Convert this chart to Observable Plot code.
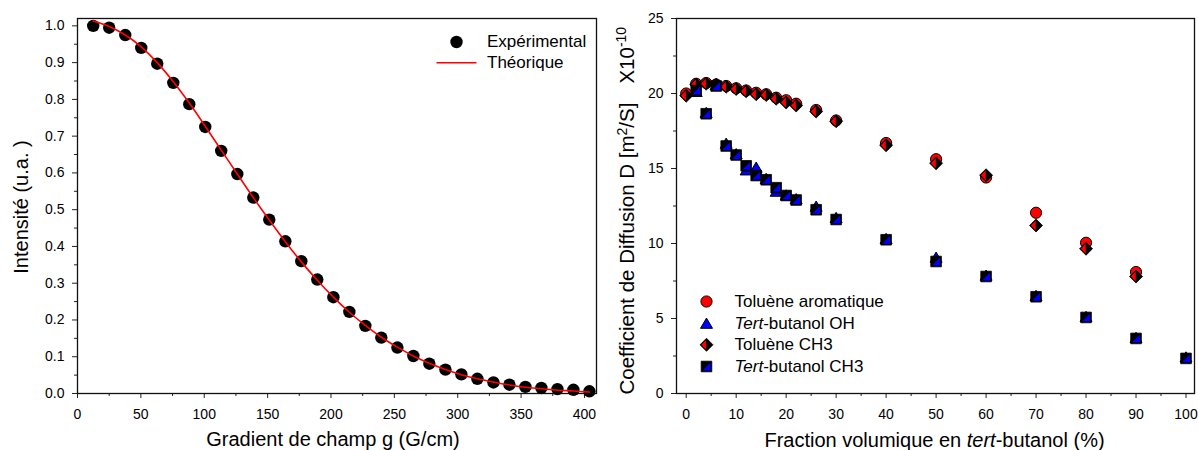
<!DOCTYPE html>
<html><head><meta charset="utf-8">
<script src="https://cdn.jsdelivr.net/npm/d3@7"></script>
<script src="https://cdn.jsdelivr.net/npm/@observablehq/plot@0.6"></script>
<style>
body{margin:0;background:#fff;font-family:"Liberation Sans",Arial,sans-serif}
#wrap{position:relative;width:1198px;height:450px;overflow:hidden}
#left{position:absolute;left:0;top:0}
#right{position:absolute;left:600px;top:0}
</style></head><body><div id="wrap"><div id="left"></div><div id="right"></div></div>
<script>
// ---------- Left chart data ----------
const gradient = [12.4, 25.0, 37.7, 50.3, 62.9, 75.6, 88.2, 100.8, 113.4, 126.1, 138.7, 151.3, 164.0, 176.6, 189.2, 201.9, 214.5, 227.1, 239.7, 252.4, 265.0, 277.6, 290.3, 302.9, 315.5, 328.2, 340.8, 353.4, 366.0, 378.7, 391.3, 403.9];
const intensityExp = [1.000, 0.995, 0.975, 0.940, 0.897, 0.845, 0.787, 0.725, 0.660, 0.597, 0.533, 0.473, 0.414, 0.360, 0.310, 0.262, 0.222, 0.184, 0.152, 0.125, 0.102, 0.081, 0.065, 0.052, 0.040, 0.030, 0.024, 0.018, 0.015, 0.012, 0.010, 0.006];
const intensityTheo = [1.013, 0.998, 0.975, 0.943, 0.900, 0.848, 0.790, 0.727, 0.662, 0.597, 0.533, 0.472, 0.413, 0.358, 0.308, 0.262, 0.221, 0.185, 0.153, 0.126, 0.102, 0.082, 0.065, 0.051, 0.040, 0.031, 0.023, 0.017, 0.013, 0.009, 0.007, 0.004];
const gTicks = [0, 50, 100, 150, 200, 250, 300, 350, 400];
const gMinorTicks = [25, 75, 125, 175, 225, 275, 325, 375];
const iTicks = [0, 0.1, 0.2, 0.3, 0.4, 0.5, 0.6, 0.7, 0.8, 0.9, 1.0];
const iMinorTicks = [0.05, 0.15, 0.25, 0.35, 0.45, 0.55, 0.65, 0.75, 0.85, 0.95];
const leftLegend = ["Expérimental", "Théorique"];

// ---------- Right chart data ----------
const fracToluene = [0, 2, 4, 6, 8, 10, 12, 14, 16, 18, 20, 22, 26, 30, 40, 50, 60, 70, 80, 90];
const tolueneAromatique = [20.0, 20.65, 20.7, 20.6, 20.5, 20.35, 20.2, 20.05, 19.95, 19.72, 19.55, 19.32, 18.9, 18.2, 16.7, 15.62, 14.4, 12.05, 10.05, 8.1];
const tolueneCH3 = [19.85, 20.6, 20.65, 20.6, 20.45, 20.3, 20.15, 19.95, 19.9, 19.65, 19.4, 19.2, 18.8, 18.15, 16.55, 15.35, 14.55, 11.2, 9.65, 7.8];
const fracTert = [2, 4, 6, 8, 10, 12, 14, 16, 18, 20, 22, 26, 30, 40, 50, 60, 70, 80, 90, 100];
const tertOH = [20.1, 18.7, 20.55, 16.65, 15.95, 14.87, 15.05, 14.3, 13.45, 13.2, 12.95, 12.45, 11.7, 10.3, 9.05, 7.85, 6.5, 5.1, 3.7, 2.4];
const tertCH3 = [20.2, 18.65, 20.5, 16.5, 15.9, 15.18, 14.53, 14.25, 13.72, 13.2, 12.9, 12.25, 11.6, 10.25, 8.8, 7.8, 6.45, 5.07, 3.67, 2.34];
const fTicks = [0, 10, 20, 30, 40, 50, 60, 70, 80, 90, 100];
const fMinorTicks = [5, 15, 25, 35, 45, 55, 65, 75, 85, 95];
const dTicks = [0, 5, 10, 15, 20, 25];
const dMinorTicks = [2.5, 7.5, 12.5, 17.5, 22.5];
const rightLegend = ["Toluène aromatique", "Tert-butanol OH", "Toluène CH3", "Tert-butanol CH3"];

// ---------- custom symbols ----------
const rOf = s => Math.sqrt(s / Math.PI);
const symDiamond = {draw(c, s){const a = rOf(s) * 1.08; c.moveTo(0, -a); c.lineTo(a, 0); c.lineTo(0, a); c.lineTo(-a, 0); c.closePath();}};
const symDiamondLeft = {draw(c, s){const a = rOf(s) * 1.08 - 1.6; c.moveTo(-0.3, -a); c.lineTo(-0.3, a); c.lineTo(-a - 0.3, 0); c.closePath();}};
const symSquare = {draw(c, s){const h = rOf(s) * 0.9; c.rect(-h, -h, 2 * h, 2 * h);}};
const symSquareLR = {draw(c, s){const h = rOf(s) * 0.9 - 1.4; c.moveTo(h, -h); c.lineTo(h, h); c.lineTo(-h, h); c.closePath();}};
const symTriangle = {draw(c, s){const r = rOf(s); c.moveTo(0, -r * 0.95); c.lineTo(r * 1.0, r * 0.75); c.lineTo(-r * 1.0, r * 0.75); c.closePath();}};
const symHLine = {draw(c, s){c.moveTo(-20, 0); c.lineTo(20, 0);}};

const baseStyle = {fontFamily: "'Liberation Sans', Arial, sans-serif", fontSize: "14px", color: "black", background: "white", overflow: "visible"};

// ---------- Left chart ----------
const expData = gradient.map((g, i) => ({g, v: intensityExp[i]}));
const theoData = gradient.map((g, i) => ({g, v: intensityTheo[i]}));

const left = Plot.plot({
  width: 600, height: 450,
  marginLeft: 77, marginRight: 4, marginTop: 18, marginBottom: 57,
  style: baseStyle,
  x: {domain: [0, 409.5]},
  y: {domain: [0, 1.02]},
  marks: [
    Plot.axisX({ticks: gTicks, tickSize: 5, tickPadding: 11, tickFormat: d3.format("d"), label: null, stroke: "#222"}),
    Plot.axisX({ticks: gMinorTicks, tickSize: 3, tickFormat: () => "", label: null, stroke: "#222"}),
    Plot.axisY({ticks: iTicks, tickSize: 5, tickPadding: 8, tickFormat: d3.format(".1f"), label: null, stroke: "#222"}),
    Plot.axisY({ticks: iMinorTicks, tickSize: 3, tickFormat: () => "", label: null, stroke: "#222"}),
    Plot.frame({stroke: "#111", strokeWidth: 1.3}),
    Plot.dot(expData, {x: "g", y: "v", r: 6.2, fill: "black"}),
    Plot.line(theoData, {x: "g", y: "v", stroke: "#ff0000", strokeWidth: 1.6, curve: "catmull-rom"}),
    Plot.text(["Gradient de champ g (G/cm)"], {frameAnchor: "bottom", textAnchor: "middle", lineAnchor: "middle", dx: -4, dy: 46.5, fontSize: 20}),
    Plot.text(["Intensité (u.a. )"], {frameAnchor: "left", textAnchor: "middle", lineAnchor: "middle", rotate: -90, dx: -56, dy: 1, fontSize: 20}),
    Plot.dot([leftLegend[0]], {frameAnchor: "top-left", dx: 379, dy: 23.5, r: 6.2, fill: "black"}),
    Plot.text([leftLegend[0]], {frameAnchor: "top-left", textAnchor: "start", lineAnchor: "middle", dx: 409.5, dy: 23, fontSize: 17}),
    Plot.dot([leftLegend[1]], {frameAnchor: "top-left", dx: 379, dy: 44.3, symbol: symHLine, stroke: "#ff0000", strokeWidth: 1.6, fill: "none"}),
    Plot.text([leftLegend[1]], {frameAnchor: "top-left", textAnchor: "start", lineAnchor: "middle", dx: 409.5, dy: 44.5, fontSize: 17})
  ]
});
document.getElementById("left").appendChild(left);

// ---------- Right chart ----------
const aro = fracToluene.map((f, i) => ({f, d: tolueneAromatique[i]}));
const tch3 = fracToluene.map((f, i) => ({f, d: tolueneCH3[i]}));
const toh = fracTert.map((f, i) => ({f, d: tertOH[i]}));
const tbch3 = fracTert.map((f, i) => ({f, d: tertCH3[i]}));

const legY = [283, 305.3, 326.3, 348];
const legendMarks = [];
const markerSpecs = [
  [{symbol: "circle", r: 5.6, fill: "#ff0000", stroke: "black", strokeWidth: 1}],
  [{symbol: symTriangle, r: 6, fill: "#0000ff", stroke: "black", strokeWidth: 1}],
  [{symbol: symDiamond, r: 6, fill: "black", stroke: "black", strokeWidth: 0.8}, {symbol: symDiamondLeft, r: 6, fill: "#ff0000"}],
  [{symbol: symSquare, r: 5.9, fill: "black", stroke: "black", strokeWidth: 0.8}, {symbol: symSquareLR, r: 5.9, fill: "#0000ff"}]
];
rightLegend.forEach((lab, i) => {
  markerSpecs[i].forEach(spec => legendMarks.push(Plot.dot([lab], {frameAnchor: "top-left", dx: 30, dy: legY[i], ...spec})));
  legendMarks.push(Plot.text([lab], {frameAnchor: "top-left", textAnchor: "start", lineAnchor: "middle", dx: 58, dy: legY[i], fontSize: 17}));
});

const right = Plot.plot({
  width: 598, height: 450,
  marginLeft: 76, marginRight: 4, marginTop: 18, marginBottom: 57,
  style: baseStyle,
  x: {domain: [-1.94, 101.7]},
  y: {domain: [0, 25]},
  marks: [
    Plot.axisX({ticks: fTicks, tickSize: 5, tickPadding: 11, tickFormat: d3.format("d"), label: null, stroke: "#222"}),
    Plot.axisX({ticks: fMinorTicks, tickSize: 3, tickFormat: () => "", label: null, stroke: "#222"}),
    Plot.axisY({ticks: dTicks, tickSize: 5, tickPadding: 8, tickFormat: d3.format("d"), label: null, stroke: "#222"}),
    Plot.axisY({ticks: dMinorTicks, tickSize: 3, tickFormat: () => "", label: null, stroke: "#222"}),
    Plot.frame({stroke: "#111", strokeWidth: 1.3}),
    Plot.dot(aro, {x: "f", y: "d", ...markerSpecs[0][0]}),
    Plot.dot(toh, {x: "f", y: "d", ...markerSpecs[1][0]}),
    Plot.dot(tch3, {x: "f", y: "d", ...markerSpecs[2][0]}),
    Plot.dot(tch3, {x: "f", y: "d", ...markerSpecs[2][1]}),
    Plot.dot(tbch3, {x: "f", y: "d", ...markerSpecs[3][0]}),
    Plot.dot(tbch3, {x: "f", y: "d", ...markerSpecs[3][1]}),
    ...legendMarks,
    Plot.text(["Fraction volumique en tert-butanol (%)"], {frameAnchor: "bottom", textAnchor: "middle", lineAnchor: "middle", dx: -1, dy: 47, fontSize: 20}),
    Plot.text(["Coefficient de Diffusion D [m2/S] X10-10"], {frameAnchor: "bottom-left", textAnchor: "start", lineAnchor: "middle", rotate: -90, dx: -49, dy: 1, fontSize: 20.5})
  ]
});
document.getElementById("right").appendChild(right);

// ---------- rich text (italic / superscripts) ----------
function rich(svg, plain, build) {
  d3.select(svg).selectAll("text").each(function() {
    if (this.textContent === plain) { const t = d3.select(this); t.text(null); build(t); }
  });
}
rich(right, "Tert-butanol OH", t => { t.append("tspan").attr("font-style", "italic").text("Tert"); t.append("tspan").text("-butanol OH"); });
rich(right, "Tert-butanol CH3", t => { t.append("tspan").attr("font-style", "italic").text("Tert"); t.append("tspan").text("-butanol CH3"); });
rich(right, "Fraction volumique en tert-butanol (%)", t => {
  t.append("tspan").text("Fraction volumique en ");
  t.append("tspan").attr("font-style", "italic").text("tert");
  t.append("tspan").text("-butanol (%)");
});
rich(right, "Coefficient de Diffusion D [m2/S] X10-10", t => {
  t.append("tspan").text("Coefficient de Diffusion D [m");
  t.append("tspan").attr("dy", -7).attr("font-size", 14).text("2");
  t.append("tspan").attr("dy", 7).text("/S]");
  t.append("tspan").attr("dx", 19).text("X10");
  t.append("tspan").attr("dy", -8).attr("font-size", 14).text("-10");
});
</script></body></html>
